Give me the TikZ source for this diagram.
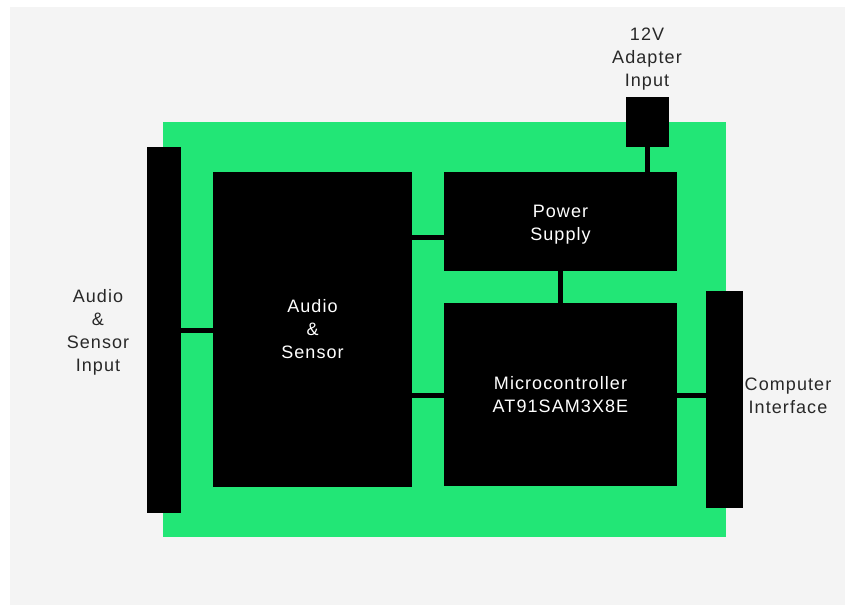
\documentclass[tikz,border=0pt]{standalone}
\usepackage{fontspec}
\setmainfont{Liberation Sans}
\newfontfamily\lblfont[LetterSpace=6]{Liberation Sans}
\definecolor{board}{RGB}{34,230,118}
\definecolor{bgray}{RGB}{244,244,244}
\definecolor{labelgray}{RGB}{40,40,40}
\begin{document}
\begin{tikzpicture}[x=1pt,y=-1pt,
  blk/.style={fill=black,draw=none,inner sep=0pt,outer sep=0pt,minimum width=#1},
  blk/.default=10pt,
  wire/.style={draw=black,line width=5pt},
  intext/.style={text=white,align=center,font=\lblfont\fontsize{18}{23}\selectfont},
  outtext/.style={text=labelgray,align=center,font=\lblfont\fontsize{18}{23}\selectfont}]
\useasboundingbox (0,0) rectangle (845,605);
\fill[white] (0,0) rectangle (845,605);
\fill[bgray] (10,7) rectangle (845,605);
\node[fill=board,inner sep=0pt,minimum width=563pt,minimum height=415pt] (brd) at (444.5,329.5) {};
\node[blk=34pt,minimum height=366pt] (lbar) at (164,330) {};
\node[blk=199pt,minimum height=315pt,intext] (audio) at (312.5,329.5) {Audio\\\&\\Sensor};
\node[blk=233pt,minimum height=99pt,intext] (power) at (560.5,221.5) {\raisebox{-3pt}[\height][\depth]{\begin{tabular}{@{}c@{}}Power\\Supply\end{tabular}}};
\node[blk=233pt,minimum height=183pt,intext] (micro) at (560.5,394.5) {Microcontroller\\AT91SAM3X8E};
\node[blk=37pt,minimum height=217pt] (rbar) at (724.5,399.5) {};
\node[blk=43pt,minimum height=50pt] (adapter) at (647.5,122) {};
\coordinate (pwin) at ([yshift=-16pt]power.west);
\coordinate (mcin) at ([yshift=-1pt]micro.west);
\coordinate (mcout) at ([yshift=-1pt]micro.east);
\draw[wire] (lbar.east) -- (audio.west |- lbar.east);
\draw[wire] (pwin) -- (audio.east |- pwin);
\draw[wire] (power.south) -- (micro.north);
\draw[wire] (mcin) -- (audio.east |- mcin);
\draw[wire] (mcout) -- (rbar.west |- mcout);
\draw[wire] (adapter.south) -- (power.north -| adapter.south);
\node[outtext] (adlabel) at (647,59) {12V\\Adapter\\Input};
\node[outtext] (inlabel) at (98,332) {Audio\\\&\\Sensor\\Input};
\node[outtext] (pclabel) at (788,396) {Computer\\Interface};
\end{tikzpicture}
\end{document}
